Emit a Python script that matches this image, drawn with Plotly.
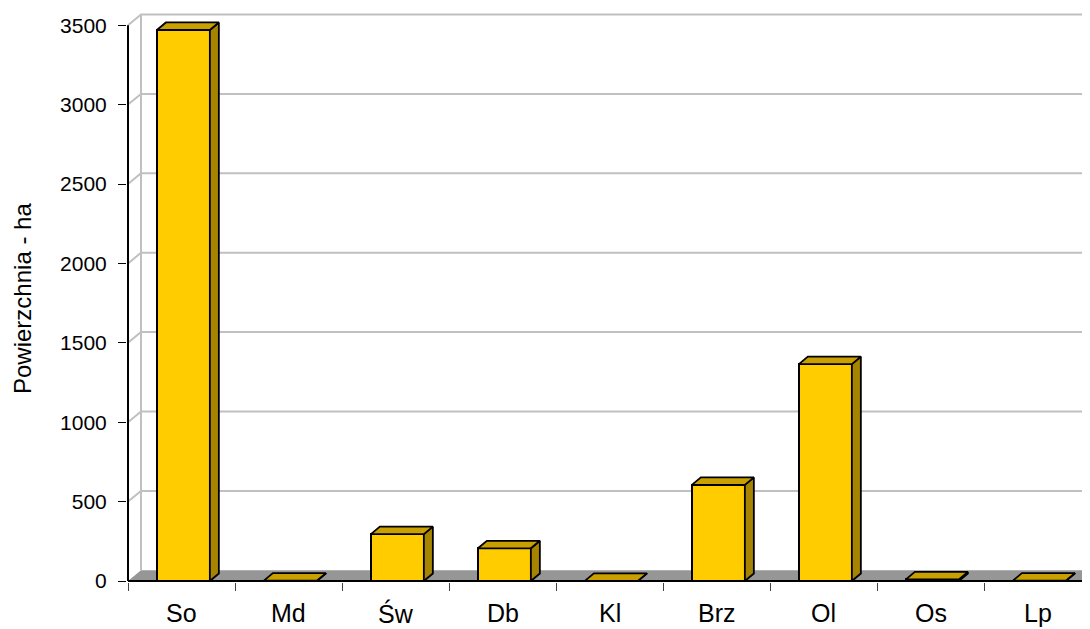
import plotly.graph_objects as go

# ---- data ----
categories = ["So", "Md", "Św", "Db", "Kl", "Brz", "Ol", "Os", "Lp"]
values = [3470, 2, 295, 206, 1, 605, 1366, 10, 2]
y_ticks = [0, 500, 1000, 1500, 2000, 2500, 3000, 3500]
y_title = "Powierzchnia - ha"

# ---- geometry ----
OFF = 8  # page body margin
W, H = 1090 - OFF, 629 - OFF
ML, MR, MT = 127 - OFF, 0, 10 - OFF
PLOT_BOTTOM = 582 - OFF
MB = H - PLOT_BOTTOM
plot_w = W - ML - MR
plot_h = H - MT - MB
px_per_cat = 107.0
px_per_unit = 79.4 / 500.0
x0 = -0.5 - 1.0 / px_per_cat
x1 = x0 + plot_w / px_per_cat
y0 = -1.0 / px_per_unit
y1 = y0 + plot_h / px_per_unit

DX = 13.0 / px_per_cat        # wall depth
DY = 10.7 / px_per_unit
BX = 9.0 / px_per_cat         # bar depth
BY = 7.5 / px_per_unit
B_OFF = -0.23
B_W = 0.495

FONT = "Liberation Sans, Arial, sans-serif"
GRID = "#C0C0C0"
FRONT = "#FFCC00"
TOP = "#C9A000"
SIDE = "#A68400"
FLOOR = "#969696"

fig = go.Figure()

# back wall & left wall gridlines
gx, gy = [], []
for v in y_ticks[1:]:
    gx += [-0.5, -0.5 + DX, x1 + 1, None]
    gy += [v, v + DY, v + DY, None]
gx += [-0.5 + DX, -0.5 + DX, None]
gy += [DY, y_ticks[-1] + DY, None]
fig.add_trace(go.Scatter(x=gx, y=gy, mode="lines", line=dict(color=GRID, width=2),
                         hoverinfo="skip", showlegend=False, zorder=0))

# floor
fig.add_trace(go.Scatter(x=[-0.5, -0.5 + DX, x1 + 1, x1 + 1, -0.5],
                         y=[0, DY, DY, 0, 0], mode="lines", fill="toself",
                         fillcolor=FLOOR, line=dict(width=0), hoverinfo="skip",
                         showlegend=False, zorder=0))

# front faces of bars
fig.add_trace(go.Bar(x=list(range(len(categories))), y=values, width=B_W, offset=B_OFF,
                     marker=dict(color=FRONT, line=dict(color="black", width=2)),
                     showlegend=False, zorder=1))

# side and top faces
sx, sy, tx, ty = [], [], [], []
for i, v in enumerate(values):
    l = i + B_OFF
    r = l + B_W
    sx += [r, r, r + BX, r + BX, r, None]
    sy += [0, v, v + BY, BY, 0, None]
    tx += [l, l + BX, r + BX, r, l, None]
    ty += [v, v + BY, v + BY, v, v, None]
fig.add_trace(go.Scatter(x=sx, y=sy, mode="lines", fill="toself", fillcolor=SIDE,
                         line=dict(color="black", width=1.8), hoverinfo="skip",
                         showlegend=False, zorder=2))
fig.add_trace(go.Scatter(x=tx, y=ty, mode="lines", fill="toself", fillcolor=TOP,
                         line=dict(color="black", width=1.8), hoverinfo="skip",
                         showlegend=False, zorder=2))

# front axis lines
fig.add_trace(go.Scatter(x=[-0.5, -0.5, None, -0.5, x1 + 1],
                         y=[y_ticks[-1], 0, None, 0, 0], mode="lines",
                         line=dict(color="black", width=2), hoverinfo="skip",
                         showlegend=False, zorder=3))

# category labels
for i, c in enumerate(categories):
    fig.add_annotation(x=i, y=(PLOT_BOTTOM - (613 - OFF)) / plot_h, xref="x", yref="paper",
                       text=c, showarrow=False, xanchor="center", yanchor="middle",
                       font=dict(family=FONT, size=25, color="black"))

fig.add_annotation(x=((22 - OFF) - ML) / plot_w, y=(PLOT_BOTTOM - (299 - OFF)) / plot_h,
                   xref="paper", yref="paper", text=y_title, textangle=-90,
                   showarrow=False, xanchor="center", yanchor="middle",
                   font=dict(family=FONT, size=24, color="black"))

fig.update_layout(
    width=W, height=H,
    margin=dict(l=ML, r=MR, t=MT, b=MB, autoexpand=False),
    paper_bgcolor="white", plot_bgcolor="white",
    bargap=0,
    xaxis=dict(range=[x0, x1], tickmode="array",
               tickvals=[k - 0.5 for k in range(len(categories) + 1)],
               showticklabels=False, ticks="outside", ticklen=8, tickcolor="#444",
               tickwidth=1, showgrid=False, zeroline=False, showline=False,
               fixedrange=True),
    yaxis=dict(range=[y0, y1], tickmode="array", tickvals=y_ticks,
               ticktext=[str(v) for v in y_ticks], ticks="outside", ticklen=8,
               tickcolor="black", tickwidth=1, showgrid=False, zeroline=False,
               showline=False, tickfont=dict(family=FONT, size=21, color="black"),
               ticklabelstandoff=7, fixedrange=True),
    font=dict(family=FONT, color="black"),
)

fig.write_html("out.html")
